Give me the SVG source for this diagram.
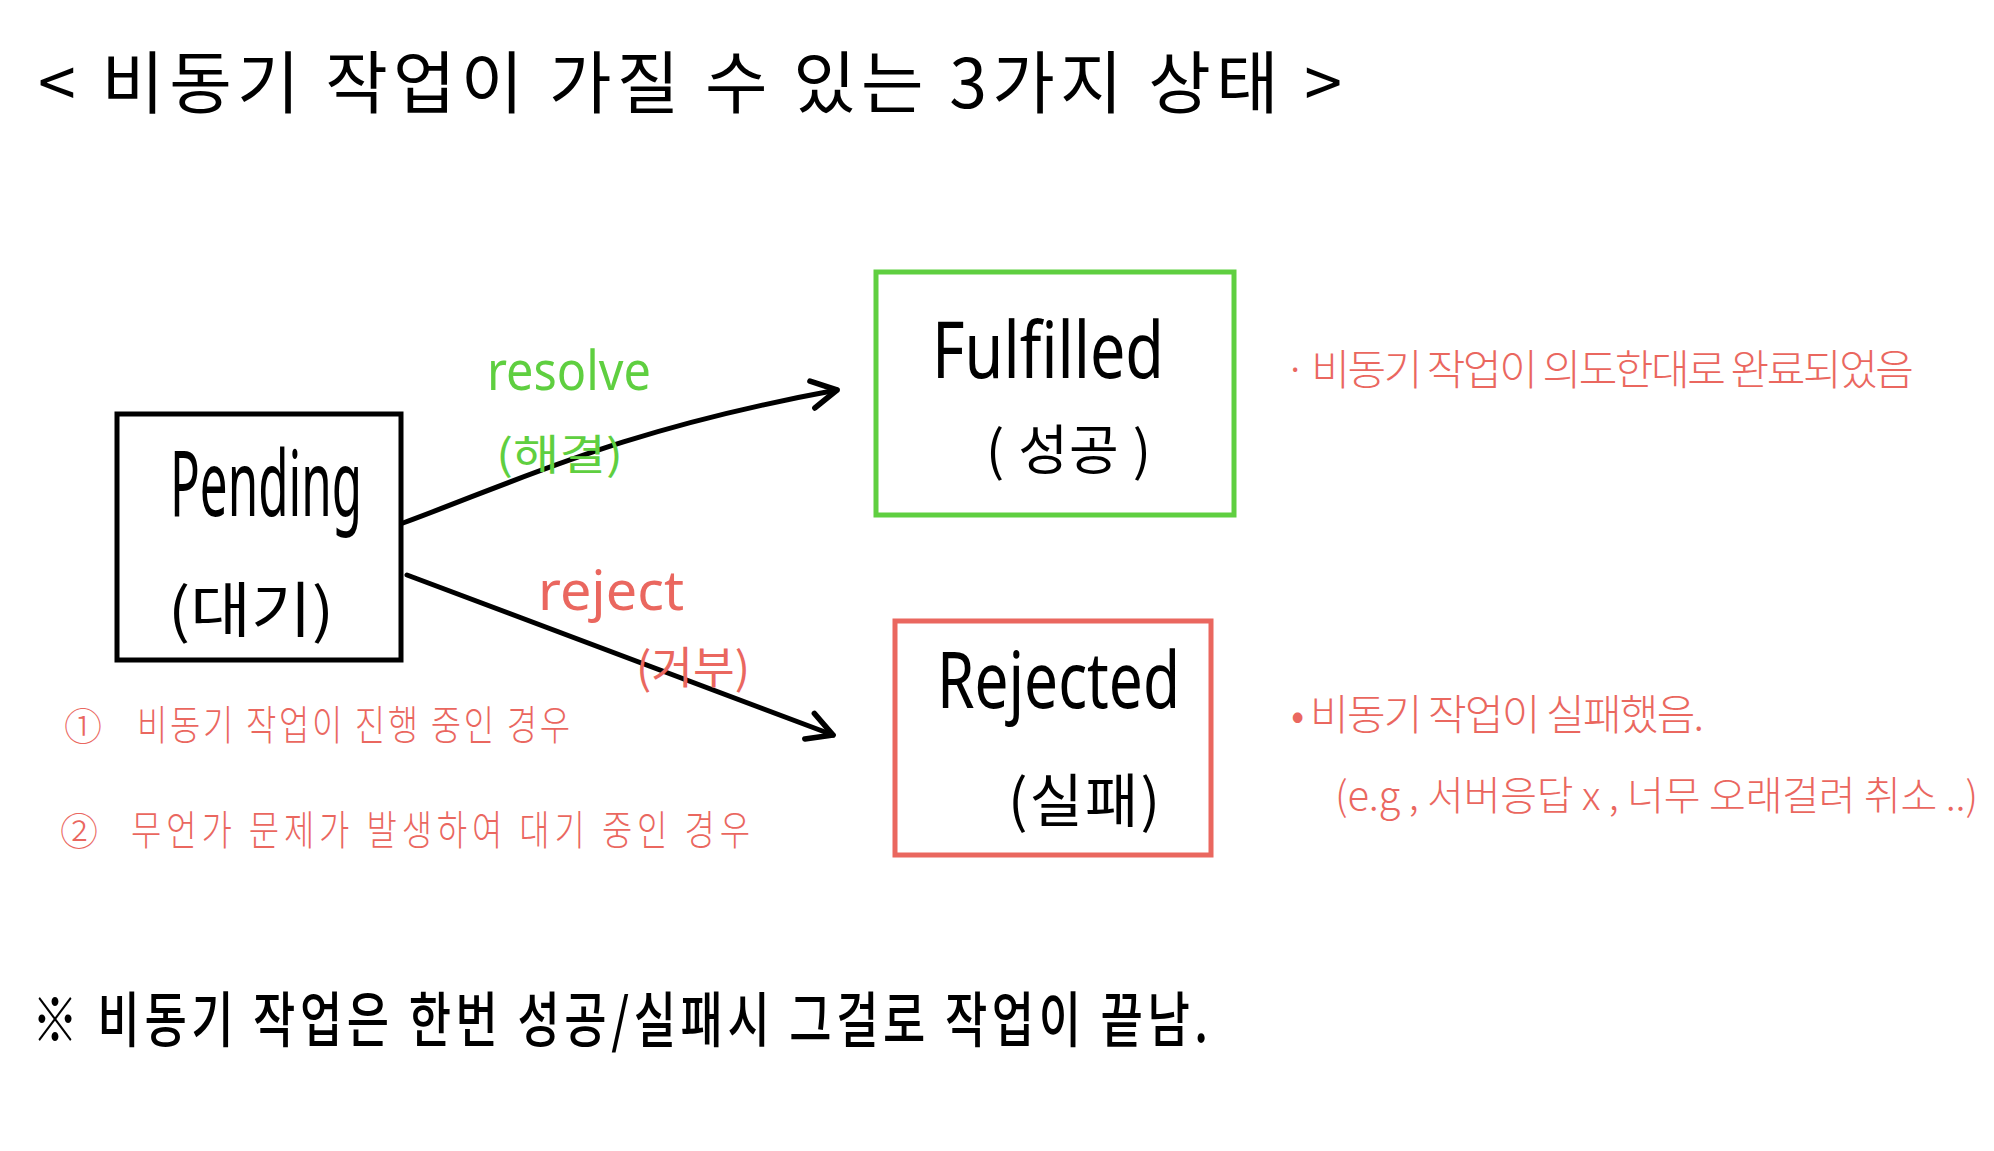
<svg xmlns="http://www.w3.org/2000/svg" width="1994" height="1151" viewBox="0 0 1994 1151">
<style>
.ko{font-family:"Noto Sans CJK KR","Noto Sans",sans-serif;}
.en{font-family:"Noto Sans","Liberation Sans",sans-serif;}
.blk{fill:#000;}
.grn{fill:#5FCF40;}
.red{fill:#EA675F;}
.box{fill:none;stroke-width:5;}
.conn{fill:none;stroke:#000;stroke-width:5;stroke-linecap:round;}
.note{font-weight:300;}
</style>
<defs>
<marker id="head" markerUnits="userSpaceOnUse" markerWidth="34" markerHeight="34" refX="26" refY="14" viewBox="0 0 30 28" orient="auto">
<path d="M4,2 L26,14 L4,26" fill="none" stroke="#000" stroke-width="5" stroke-linecap="round" stroke-linejoin="round"/>
</marker>
</defs>
<rect width="1994" height="1151" fill="#fff"/>

<g id="title">
<text class="ko blk" x="38" y="108" font-size="68" textLength="1304" lengthAdjust="spacing">&lt; 비동기 작업이 가질 수 있는 3가지 상태 &gt;</text>
</g>

<g id="connectors">
<path class="conn" d="M403,523 C520,480 620,430 837,390" marker-end="url(#head)"/>
<path class="conn" d="M407,575 L833,735" marker-end="url(#head)"/>
<text class="en grn" x="487" y="390" font-size="54" textLength="164" lengthAdjust="spacingAndGlyphs">resolve</text>
<text class="ko grn" x="496" y="470" font-size="42" textLength="127" lengthAdjust="spacingAndGlyphs">(해결)</text>
<text class="en red" x="538" y="610" font-size="54" textLength="146" lengthAdjust="spacingAndGlyphs">reject</text>
<text class="ko red" x="636" y="684" font-size="44" textLength="114" lengthAdjust="spacingAndGlyphs">(거부)</text>
</g>

<g id="pending">
<rect class="box" x="117" y="414" width="284" height="246" stroke="#000"/>
<text class="en blk" x="170" y="516" font-size="92" textLength="192" lengthAdjust="spacingAndGlyphs">Pending</text>
<text class="ko blk" x="168" y="632" font-size="60" textLength="166" lengthAdjust="spacingAndGlyphs">(대기)</text>
</g>

<g id="fulfilled">
<rect class="box" x="876" y="272" width="358" height="243" stroke="#5FCF40"/>
<text class="en blk" x="932" y="378" font-size="78" textLength="232" lengthAdjust="spacingAndGlyphs">Fulfilled</text>
<text class="ko blk" x="986" y="470" font-size="54" textLength="165" lengthAdjust="spacing">( 성공 )</text>
</g>

<g id="rejected">
<rect class="box" x="895" y="621" width="316" height="234" stroke="#EA675F"/>
<text class="en blk" x="937" y="708" font-size="78" textLength="243" lengthAdjust="spacingAndGlyphs">Rejected</text>
<text class="ko blk" x="1008" y="822" font-size="58" textLength="152" lengthAdjust="spacing">(실패)</text>
</g>

<g id="notes">
<text class="ko red note" x="1284" y="385" font-size="42" textLength="630" lengthAdjust="spacing">· 비동기 작업이 의도한대로 완료되었음</text>
<text class="ko red note" x="1291" y="730" font-size="42" textLength="413" lengthAdjust="spacing">• 비동기 작업이 실패했음.</text>
<text class="ko red note" x="1335" y="810" font-size="40" textLength="643" lengthAdjust="spacing">(e.g , 서버응답 x , 너무 오래걸려 취소 ..)</text>
<text class="ko red note" x="64" y="740" font-size="38">①</text>
<text class="ko red note" transform="translate(137,740) scale(1,1.25)" x="0" y="0" font-size="33" textLength="433" lengthAdjust="spacing">비동기 작업이 진행 중인 경우</text>
<text class="ko red note" x="60" y="845" font-size="38">②</text>
<text class="ko red note" transform="translate(131,845) scale(1,1.25)" x="0" y="0" font-size="33" textLength="619" lengthAdjust="spacing">무언가 문제가 발생하여 대기 중인 경우</text>
</g>

<g id="footer">
<text class="ko blk" transform="translate(32,1042) scale(1,1.3)" x="0" y="0" font-size="46" font-weight="500" textLength="1176" lengthAdjust="spacing">※ 비동기 작업은 한번 성공/실패시 그걸로 작업이 끝남.</text>
</g>
</svg>
